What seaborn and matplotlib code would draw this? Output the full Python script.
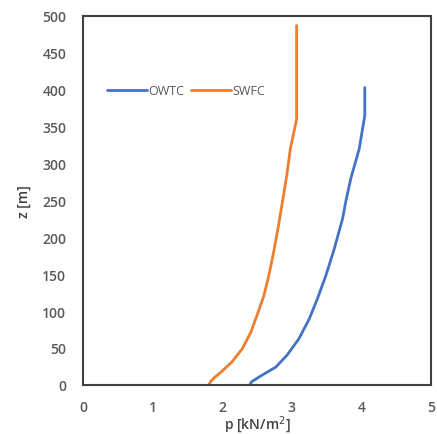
import matplotlib
matplotlib.use("Agg")
import matplotlib.pyplot as plt
import seaborn as sns
import pandas as pd

# Pressure profiles p(z) for the two wind models
owtc_z = [0, 4, 13, 24, 40, 62, 89, 117, 148, 184, 225, 250, 280, 320, 365, 403]
owtc_p = [2.40, 2.42, 2.57, 2.77, 2.93, 3.10, 3.25, 3.37, 3.49, 3.61, 3.73, 3.78, 3.85, 3.97, 4.05, 4.05]

swfc_z = [0, 4, 10, 17, 31, 49, 71, 94, 121, 148, 180, 216, 250, 285, 320, 360, 487]
swfc_p = [1.81, 1.83, 1.89, 1.98, 2.14, 2.29, 2.41, 2.50, 2.60, 2.67, 2.74, 2.81, 2.87, 2.93, 2.98, 3.07, 3.07]

series_names = ["OWTC", "SWFC"]
x_ticks = [0, 1, 2, 3, 4, 5]
y_ticks = list(range(0, 501, 50))

df = pd.concat([
    pd.DataFrame({"z": owtc_z, "p": owtc_p, "model": series_names[0]}),
    pd.DataFrame({"z": swfc_z, "p": swfc_p, "model": series_names[1]}),
], ignore_index=True)

sns.set_theme(style="white")
plt.rcParams["font.family"] = ["Open Sans", "DejaVu Sans"]

fig = plt.figure(figsize=(4.37, 4.35), dpi=100)
ax = fig.add_axes([0.19, 0.113, 0.796, 0.848])

sns.lineplot(data=df, x="p", y="z", hue="model", sort=False, orient="y",
             palette={"OWTC": "#4472C4", "SWFC": "#ED7D31"},
             linewidth=2, estimator=None, ax=ax)

ax.set_xlim(0, 5)
ax.set_ylim(0, 500)
ax.set_xticks(x_ticks)
ax.set_yticks(y_ticks)
ax.tick_params(axis="x", length=0, labelsize=10, labelcolor="#595959", pad=11)
ax.tick_params(axis="y", length=0, labelsize=10, labelcolor="#595959", pad=12)
for lbl in ax.get_xticklabels() + ax.get_yticklabels():
    lbl.set_fontweight("semibold")

ax.set_xlabel("p [kN/m$^2$]", fontsize=10, color="#404040", fontweight="semibold", labelpad=0)
ax.set_ylabel("z [m]", fontsize=10, color="#404040", fontweight="semibold", labelpad=8)

for sp in ax.spines.values():
    sp.set_color("#404040")
    sp.set_linewidth(1.5)

leg = ax.legend(loc="center", bbox_to_anchor=(0.296, 0.797), ncol=2, frameon=False,
                fontsize=9, handlelength=3.2, handletextpad=0.1, columnspacing=0.5,
                title=None)
for t in leg.get_texts():
    t.set_color("#595959")

fig.savefig("out.png", dpi=100, facecolor="white")
